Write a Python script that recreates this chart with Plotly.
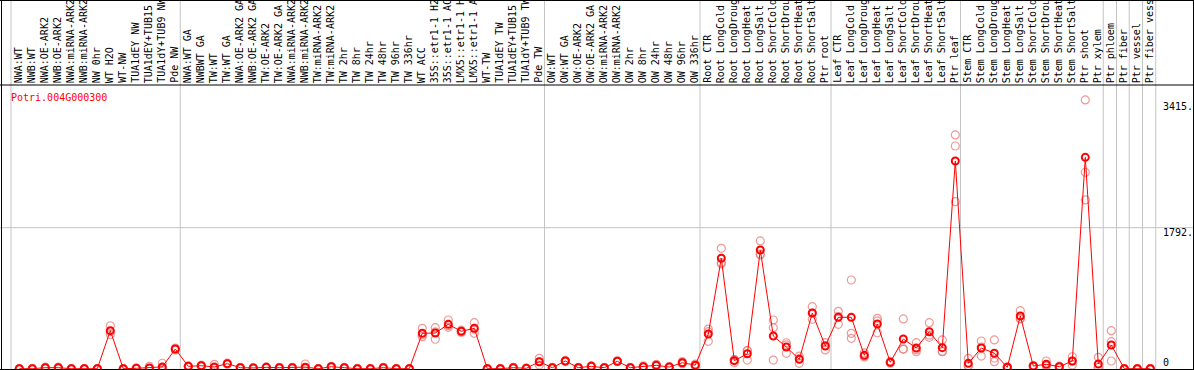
import plotly.graph_objects as go

gene_title = "Potri.004G000300"

categories = [
    "NWA:WT", "NWB:WT", "NWA:OE-ARK2", "NWB:OE-ARK2", "NWA:miRNA-ARK2", "NWB:miRNA-ARK2",
    "NW 0hr", "WT H2O", "WT-NW", "TUA1dEY NW", "TUA1dEY+TUB15", "TUA1dY+TUB9 NW", "Pde NW",
    "NWA:WT GA", "NWBWT GA", "TW:WT", "TW:WT GA", "NWA:OE-ARK2 GA", "NWB:OE-ARK2 GA",
    "TW:OE-ARK2", "TW:OE-ARK2 GA", "NWA:miRNA-ARK2", "NWB:miRNA-ARK2", "TW:miRNA-ARK2",
    "TW:miRNA-ARK2", "TW 2hr", "TW 8hr", "TW 24hr", "TW 48hr", "TW 96hr", "TW 336hr",
    "WT ACC", "35S::etr1-1 H2", "35S::etr1-1 AC", "LMX5::etr1-1 H", "LMX5::etr1-1 A",
    "WT-TW", "TUA1dEY TW", "TUA1dEY+TUB15", "TUA1dY+TUB9 TW", "Pde TW",
    "OW:WT", "OW:WT GA", "OW:OE-ARK2", "OW:OE-ARK2 GA", "OW:miRNA-ARK2", "OW:miRNA-ARK2",
    "OW 2hr", "OW 8hr", "OW 24hr", "OW 48hr", "OW 96hr", "OW 336hr",
    "Root CTR", "Root LongCold", "Root LongDroug", "Root LongHeat", "Root LongSalt",
    "Root ShortCold", "Root ShortDrou", "Root ShortHeat", "Root ShortSalt", "Ptr root",
    "Leaf CTR", "Leaf LongCold", "Leaf LongDroug", "Leaf LongHeat", "Leaf LongSalt",
    "Leaf ShortCold", "Leaf ShortDrou", "Leaf ShortHeat", "Leaf ShortSalt", "Ptr leaf",
    "Stem CTR", "Stem LongCold", "Stem LongDroug", "Stem LongHeat", "Stem LongSalt",
    "Stem ShortCold", "Stem ShortDrou", "Stem ShortHeat", "Stem ShortSalt", "Ptr shoot",
    "Ptr xylem", "Ptr phloem", "Ptr fiber", "Ptr vessel", "Ptr fiber vess",
]

mean_values = [
    0, 0, 13, 13, 0, 0, 0, 483, 0, 5, 10, 23, 250,
    30, 38, 22, 64, 13, 10, 17, 13, 13, 20, 0, 25, 13, 0, 0, 13, 0, 0,
    450, 454, 564, 475, 513, 0, 0, 13, 5, 89,
    13, 98, 13, 30, 13, 94, 13, 25, 43, 21, 76, 45,
    441, 1403, 102, 190, 1508, 415, 276, 119, 708, 288,
    653, 653, 170, 568, 81, 377, 263, 470, 267, 2639,
    68, 263, 197, 18, 670, 34, 56, 25, 98, 2686,
    60, 301, 0, 0, 0,
]

replicates = [
    [0, 0, 0], [0, 0, 0], [13, 20, 6], [13, 20, 6], [0, 0, 0], [0, 0, 0], [0, 0, 0],
    [546, 470, 433], [0, 0, 0], [5, 8, 2], [30, 0, 0], [69, 0, 0], [250, 262, 238],
    [30, 35, 25], [38, 45, 31], [56, 5, 5], [64, 70, 58], [13, 18, 8], [10, 14, 6],
    [17, 22, 12], [13, 18, 8], [13, 18, 8], [60, 0, 0], [0, 0, 0], [25, 30, 20],
    [13, 18, 8], [0, 0, 0], [0, 0, 0], [13, 18, 8], [0, 0, 0], [0, 0, 0],
    [513, 407, 430], [521, 374, 467], [619, 526, 547], [475, 490, 460], [585, 450, 504],
    [0, 0, 0], [0, 0, 0], [13, 18, 8], [5, 8, 2], [132, 47, 88],
    [13, 18, 8], [98, 105, 91], [13, 18, 8], [30, 38, 22], [13, 18, 8], [94, 100, 88],
    [13, 18, 8], [35, 25, 15], [55, 43, 31], [21, 26, 16], [76, 90, 62], [60, 45, 30],
    [504, 348, 471], [1530, 1347, 1332], [76, 115, 115], [229, 110, 231], [1623, 1445, 1456],
    [619, 521, 110], [330, 195, 303], [161, 68, 128], [788, 628, 708], [238, 331, 295],
    [729, 564, 666], [1127, 450, 386], [150, 200, 160], [640, 457, 607], [81, 70, 92],
    [632, 250, 249], [331, 216, 242], [585, 399, 426], [365, 216, 220], [2970, 2830, 2122],
    [132, 36, 36], [352, 161, 276], [365, 89, 136], [18, 25, 11], [737, 640, 633],
    [34, 40, 28], [98, 35, 35], [25, 32, 18], [152, 95, 47], [3415, 2496, 2144],
    [145, 18, 18], [483, 343, 98], [0, 0, 0], [0, 0, 0], [0, 0, 0],
]

tick_values = [0, 1792, 3415]
tick_labels = ["0", "1792.", "3415."]
gridline_values = [1792]
# group separators (between categories, in category-index units)
separators = [-0.64, 12.38, 40.4, 52.36, 62.44, 72.4, 83.38, 84.4, 85.38, 86.4, 87.42]

W, H = 1194, 370
FONT = "DejaVu Sans Mono"
x0_px, dx_px = 19.3, 13.0
zero_px, px_per_unit = 368.7, 0.0787


def py(p):
    return 1 - p / H


idx = list(range(len(categories)))
rep_x, rep_y = [], []
for i, reps in zip(idx, replicates):
    for v in reps:
        rep_x.append(i)
        rep_y.append(v)

fig = go.Figure()
fig.add_trace(go.Scatter(
    x=rep_x, y=rep_y, mode="markers",
    marker=dict(symbol="circle-open", size=8, color="rgba(232,120,120,0.75)",
                line=dict(width=1.2)),
    hoverinfo="skip", showlegend=False,
))
fig.add_trace(go.Scatter(
    x=idx, y=mean_values, mode="lines+markers",
    line=dict(color="#ff0000", width=1),
    marker=dict(symbol="circle-open", size=7, color="#ff0000", line=dict(width=2)),
    text=categories, showlegend=False,
))

shapes = []
for s in separators:
    shapes.append(dict(type="line", xref="x", yref="paper", x0=s, x1=s, y0=0, y1=1,
                       line=dict(color="#c4c4c4", width=1), layer="below"))
for g in gridline_values:
    shapes.append(dict(type="line", xref="paper", yref="y", x0=0, x1=1, y0=g, y1=g,
                       line=dict(color="#c4c4c4", width=1), layer="below"))
for p in [0.5, 85, 369.5]:
    shapes.append(dict(type="line", xref="paper", yref="paper", x0=0, x1=1,
                       y0=py(p), y1=py(p), line=dict(color="black", width=1)))
for xp in [1.5, 1193.5]:
    shapes.append(dict(type="line", xref="paper", yref="paper", x0=xp / W, x1=xp / W,
                       y0=0, y1=1, line=dict(color="black", width=1)))

annotations = []
for i, c in zip(idx, categories):
    annotations.append(dict(
        x=i, xref="x", y=py(84), yref="paper", text=c, textangle=-90,
        showarrow=False, xanchor="center", yanchor="bottom", borderpad=0, xshift=-1,
        font=dict(family=FONT, size=10, color="black"),
    ))
annotations.append(dict(
    x=9 / W, xref="paper", y=py(97), yref="paper", text=gene_title, showarrow=False,
    xanchor="left", yanchor="middle", font=dict(family=FONT, size=10, color="#ff0000"),
))
tick_label_px = {0: 362, 1792: 232, 3415: 107}
for v, t in zip(tick_values, tick_labels):
    annotations.append(dict(
        x=1162 / W, xref="paper", y=py(tick_label_px[v]), yref="paper", text=t,
        showarrow=False, xanchor="left", yanchor="middle", borderpad=0,
        font=dict(family=FONT, size=10, color="black"),
    ))

fig.update_layout(
    width=W, height=H,
    margin=dict(l=0, r=0, t=0, b=0, pad=0),
    paper_bgcolor="white", plot_bgcolor="white",
    xaxis=dict(range=[-x0_px / dx_px, (W - x0_px) / dx_px], visible=False, fixedrange=True),
    yaxis=dict(range=[-(H - zero_px) / px_per_unit, zero_px / px_per_unit], visible=False,
               fixedrange=True),
    shapes=shapes, annotations=annotations, showlegend=False,
)

fig.write_html(
    "out.html",
    config={"displayModeBar": False},
    post_script="document.body.style.margin='0';document.body.style.overflow='hidden';",
)
